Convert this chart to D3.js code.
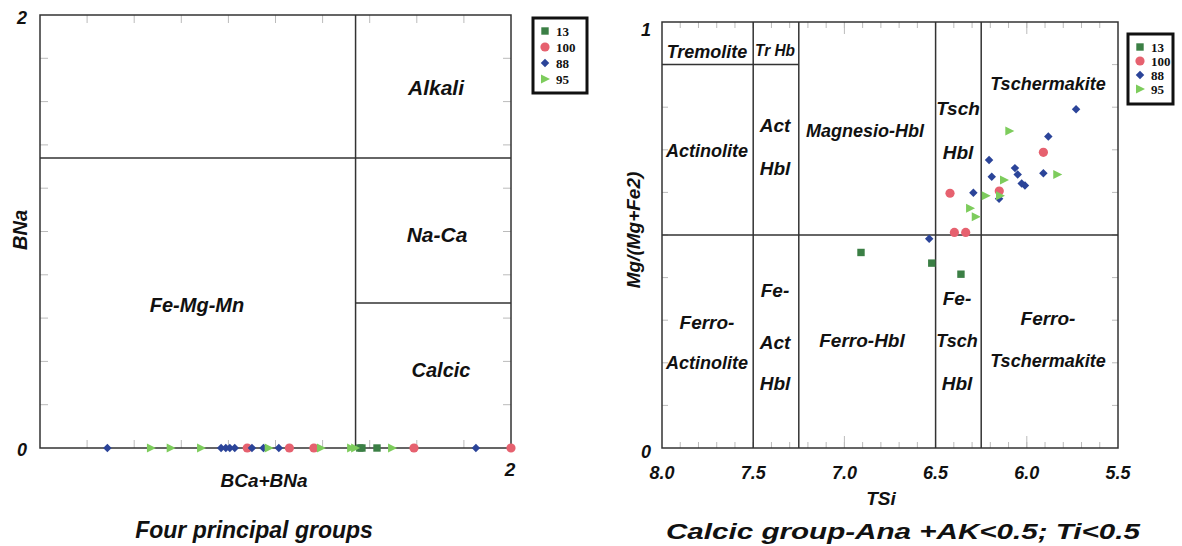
<!DOCTYPE html>
<html lang="en">
<head>
<meta charset="UTF-8">
<title>Amphibole classification</title>
<script src="https://d3js.org/d3.v7.min.js"></script>
<style>
  body { margin: 0; background: #fff; }
  .lbl { font-family: "Liberation Sans", Arial, sans-serif; font-weight: bold; font-style: italic; fill: #111; }
  .leg { font-family: "Liberation Serif", "Times New Roman", serif; font-weight: bold; font-size: 13px; fill: #111; }
  .frame { stroke: #333; stroke-width: 1.5; fill: none; }
  .tick { stroke: #bbb; stroke-width: 1; }
</style>
</head>
<body>
<svg width="1182" height="546"></svg>
<script>
// series names and marker colours
const groups = ["13", "100", "88", "95"];
const colors = ["#3b7f45", "#e6616f", "#2b4499", "#7dcc5c"];

// Four principal groups: BCa+BNa (BNa is 0 for all analyses)
const bca13 = [1.358, 1.367, 1.431];
const bca100 = [0.88, 1.059, 1.163, 1.588, 2.0];
const bca88 = [0.286, 0.769, 0.789, 0.806, 0.827, 0.90, 0.949, 1.014, 1.851];
const bca95 = [0.471, 0.555, 0.684, 0.971, 1.193, 1.321, 1.338, 1.495];

// Calcic group: TSi and Mg/(Mg+Fe2)
const tsi13 = [6.909, 6.521, 6.361];
const mg13 = [0.459, 0.434, 0.408];
const tsi100 = [5.909, 6.421, 6.151, 6.397, 6.335];
const mg100 = [0.694, 0.598, 0.603, 0.506, 0.506];
const tsi88 = [5.730, 5.882, 6.207, 6.065, 6.050, 6.192, 6.028, 6.010, 5.909, 6.293, 6.152, 6.535];
const mg88 = [0.795, 0.731, 0.676, 0.657, 0.642, 0.637, 0.621, 0.616, 0.645, 0.599, 0.585, 0.491];
const tsi95 = [6.096, 5.833, 6.125, 6.225, 6.147, 6.311, 6.280];
const mg95 = [0.744, 0.642, 0.629, 0.592, 0.592, 0.563, 0.543];

const svg = d3.select("svg");

function ticks(g, x, y, xs, ys, len) {
  const [x0, x1] = x.range(), [y0, y1] = y.range();
  xs.forEach(v => {
    g.append("line").attr("class", "tick").attr("x1", x(v)).attr("x2", x(v)).attr("y1", y0).attr("y2", y0 - len);
    g.append("line").attr("class", "tick").attr("x1", x(v)).attr("x2", x(v)).attr("y1", y1).attr("y2", y1 + len);
  });
  ys.forEach(v => {
    g.append("line").attr("class", "tick").attr("y1", y(v)).attr("y2", y(v)).attr("x1", x0).attr("x2", x0 + len);
    g.append("line").attr("class", "tick").attr("y1", y(v)).attr("y2", y(v)).attr("x1", x1).attr("x2", x1 - len);
  });
}

function seg(g, x1, y1, x2, y2) {
  g.append("line").attr("class", "frame").attr("x1", x1).attr("y1", y1).attr("x2", x2).attr("y2", y2);
}

function text(g, t, x, y, size, anchor) {
  return g.append("text").attr("class", "lbl").attr("x", x).attr("y", y)
    .attr("font-size", size).attr("text-anchor", anchor || "middle").text(t);
}

// square, circle, small diamond (rotated square), right-pointing triangle
function marker(g, i, x, y) {
  const c = colors[i];
  if (i === 0) {
    g.append("rect").attr("x", x - 3.7).attr("y", y - 3.7).attr("width", 7.4).attr("height", 7.4).attr("fill", c);
  } else if (i === 1) {
    g.append("circle").attr("cx", x).attr("cy", y).attr("r", 4.6).attr("fill", c);
  } else if (i === 2) {
    g.append("rect").attr("x", -3).attr("y", -3).attr("width", 6).attr("height", 6)
      .attr("transform", `translate(${x},${y}) rotate(45)`).attr("fill", c);
  } else {
    g.append("path").attr("d", `M${x - 4},${y - 4.5}L${x + 5},${y}L${x - 4},${y + 4.5}Z`).attr("fill", c);
  }
}

function legend(g, x, y, w, h, step) {
  g.append("rect").attr("x", x).attr("y", y).attr("width", w).attr("height", h)
    .attr("fill", "#fff").attr("stroke", "#111").attr("stroke-width", 3);
  groups.forEach((name, i) => {
    marker(g, i, x + 12, y + 13 + i * step);
    g.append("text").attr("class", "leg").attr("x", x + 23).attr("y", y + 18 + i * step).text(name);
  });
}

// ---------- left panel ----------
const xL = d3.scaleLinear().domain([0, 2]).range([40, 511]);
const yL = d3.scaleLinear().domain([0, 2]).range([448, 15]);
const gL = svg.append("g");

ticks(gL, xL, yL, d3.range(0.2, 2, 0.2), d3.range(0.2, 2, 0.2), 8);
gL.append("rect").attr("class", "frame")
  .attr("x", xL(0)).attr("y", yL(2)).attr("width", xL(2) - xL(0)).attr("height", yL(0) - yL(2));
seg(gL, xL(0), yL(1.34), xL(2), yL(1.34));
seg(gL, xL(1.34), yL(0), xL(1.34), yL(2));
seg(gL, xL(1.34), yL(0.67), xL(2), yL(0.67));

[bca13, bca100, bca88, bca95].forEach((arr, i) => {
  arr.forEach(v => marker(gL, i, xL(v), yL(0)));
});

text(gL, "2", 22, 24, 18);
text(gL, "0", 22, 456, 18);
text(gL, "2", 510, 476, 19);
text(gL, "BCa+BNa", 264, 487, 19);
text(gL, "BNa", 0, 0, 20).attr("transform", "translate(27,230) rotate(-90)");
text(gL, "Alkali", 436, 95, 21);
text(gL, "Na-Ca", 437, 242, 21);
text(gL, "Calcic", 441, 377, 20);
text(gL, "Fe-Mg-Mn", 197, 312, 20);
text(gL, "Four principal groups", 254, 538, 23);
legend(gL, 533, 18, 54, 75, 16);

// ---------- right panel ----------
const xR = d3.scaleLinear().domain([8, 5.5]).range([662, 1118]);
const yR = d3.scaleLinear().domain([0, 1]).range([448, 22]);
const gR = svg.append("g");

ticks(gR, xR, yR, d3.range(7.9, 5.55, -0.1), d3.range(0.1, 0.95, 0.1), 6);
[7.0, 6.0].forEach(v => {
  gR.append("line").attr("class", "tick").attr("x1", xR(v)).attr("x2", xR(v)).attr("y1", yR(0)).attr("y2", yR(0) - 12);
  gR.append("line").attr("class", "tick").attr("x1", xR(v)).attr("x2", xR(v)).attr("y1", yR(1)).attr("y2", yR(1) + 12);
});
gR.append("rect").attr("class", "frame")
  .attr("x", xR(8)).attr("y", yR(1)).attr("width", xR(5.5) - xR(8)).attr("height", yR(0) - yR(1));
[7.5, 7.25, 6.5, 6.25].forEach(v => seg(gR, xR(v), yR(0), xR(v), yR(1)));
seg(gR, xR(8), yR(0.5), xR(5.5), yR(0.5));
seg(gR, xR(8), yR(0.9), xR(7.25), yR(0.9));

[[tsi13, mg13], [tsi100, mg100], [tsi88, mg88], [tsi95, mg95]].forEach(([xs, ys], i) => {
  xs.forEach((v, j) => marker(gR, i, xR(v), yR(ys[j])));
});

const xTicks = [8.0, 7.5, 7.0, 6.5, 6.0, 5.5];
xTicks.forEach(v => text(gR, v.toFixed(1), xR(v), 479, 18));
text(gR, "1", 646, 36, 18);
text(gR, "0", 646, 458, 18);
text(gR, "TSi", 881, 505, 19);
text(gR, "Mg/(Mg+Fe2)", 0, 0, 19).attr("transform", "translate(640,230) rotate(-90)");

text(gR, "Tremolite", 707, 58, 18);
text(gR, "Tr Hb", 775, 56, 16).attr("textLength", 40).attr("lengthAdjust", "spacingAndGlyphs");
text(gR, "Actinolite", 707, 157, 18);
text(gR, "Act", 775, 132, 19);
text(gR, "Hbl", 775, 175, 19);
text(gR, "Magnesio-Hbl", 865, 137, 18);
text(gR, "Tsch", 958, 115, 19);
text(gR, "Hbl", 958, 159, 19);
text(gR, "Tschermakite", 1048, 90, 18);
text(gR, "Ferro-", 707, 329, 19);
text(gR, "Actinolite", 707, 369, 18);
text(gR, "Fe-", 775, 297, 19);
text(gR, "Act", 775, 349, 19);
text(gR, "Hbl", 775, 390, 19);
text(gR, "Ferro-Hbl", 862, 347, 19);
text(gR, "Fe-", 957, 305, 19);
text(gR, "Tsch", 957, 347, 18);
text(gR, "Hbl", 957, 390, 19);
text(gR, "Ferro-", 1048, 325, 19);
text(gR, "Tschermakite", 1048, 367, 18);
text(gR, "Calcic group-Ana +AK<0.5; Ti<0.5", 903, 539, 22)
  .attr("textLength", 474).attr("lengthAdjust", "spacingAndGlyphs");
legend(gR, 1128, 34, 45, 70, 14);
</script>
</body>
</html>
